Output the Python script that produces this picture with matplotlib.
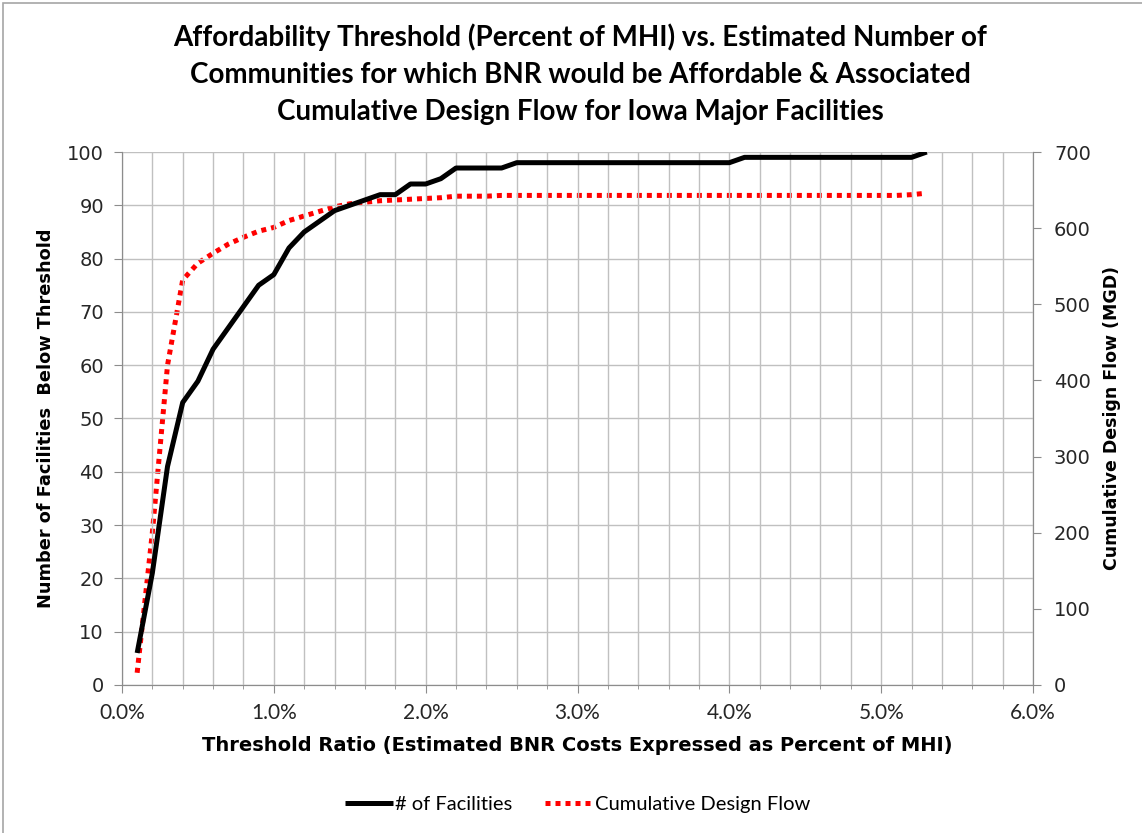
import matplotlib.pyplot as plt
from matplotlib.ticker import MultipleLocator, FuncFormatter
from matplotlib.patches import Rectangle

# threshold ratio, percent of MHI
threshold = [0.1, 0.2, 0.3, 0.4, 0.5, 0.6, 0.7, 0.8, 0.9, 1.0,
             1.1, 1.2, 1.3, 1.4, 1.5, 1.6, 1.7, 1.8, 1.9, 2.0,
             2.1, 2.2, 2.3, 2.4, 2.5, 2.6, 2.7, 2.8, 2.9, 3.0,
             3.1, 3.2, 3.3, 3.4, 3.5, 3.6, 3.7, 3.8, 3.9, 4.0,
             4.1, 4.2, 4.3, 4.4, 4.5, 4.6, 4.7, 4.8, 4.9, 5.0,
             5.1, 5.2, 5.3]
# number of facilities below threshold
facilities = [6, 21, 41, 53, 57, 63, 67, 71, 75, 77,
              82, 85, 87, 89, 90, 91, 92, 92, 94, 94,
              95, 97, 97, 97, 97, 98, 98, 98, 98, 98,
              98, 98, 98, 98, 98, 98, 98, 98, 98, 98,
              99, 99, 99, 99, 99, 99, 99, 99, 99, 99,
              99, 99, 100]
# cumulative design flow (MGD)
design_flow = [16, 200, 420, 532, 554, 567, 579, 588, 596, 601,
               610, 616, 622, 628, 632, 634, 636, 637, 638, 639,
               640, 642, 642, 642, 643, 643, 643, 643, 643, 643,
               643, 643, 643, 643, 643, 643, 643, 643, 643, 643,
               643, 643, 643, 643, 643, 643, 643, 643, 643, 643,
               643, 644, 646]

TXT = "#262626"
WIDE = ["DejaVu Sans"]
plt.rcParams["font.family"] = ["Lato", "DejaVu Sans"]

fig = plt.figure(figsize=(11.42, 8.33), dpi=100)
# outer chart border
fig.patches.append(Rectangle((3 / 1142, -0.01), 1.1, 1 - 3 / 833 + 0.01,
                             transform=fig.transFigure, fill=False,
                             edgecolor="#a6a6a6", linewidth=1.2))
ax = fig.add_axes([0.1068, 0.1777, 0.7978, 0.6398])
ax2 = ax.twinx()

l1, = ax.plot(threshold, facilities, color="black", linewidth=3.6,
              solid_capstyle="butt", solid_joinstyle="round", label="# of Facilities")
l2, = ax2.plot(threshold, design_flow, color="#ff0000", linewidth=3.6,
               linestyle=(0, (1, 1)), dash_capstyle="butt", label="Cumulative Design Flow")
ax.set_zorder(ax2.get_zorder() + 1)
ax.patch.set_visible(False)

ax.set_xlim(0, 6)
ax.set_ylim(0, 100)
ax2.set_ylim(0, 700)
ax.xaxis.set_major_locator(MultipleLocator(1))
ax.xaxis.set_minor_locator(MultipleLocator(0.2))
ax.yaxis.set_major_locator(MultipleLocator(10))
ax2.yaxis.set_major_locator(MultipleLocator(100))
ax.xaxis.set_major_formatter(FuncFormatter(lambda v, p: f"{v:.1f}%"))

ax2.grid(False)
ax.grid(which="both", axis="x", color="#c0c0c0", linewidth=1.0)
ax.grid(which="major", axis="y", color="#c0c0c0", linewidth=1.0)
ax.set_axisbelow(True)

for a in (ax, ax2):
    for s in a.spines.values():
        s.set_color("#8c8c8c")
    a.spines["top"].set_visible(False)
ax.tick_params(axis="both", which="major", length=6, color="#8c8c8c",
               labelsize=15, labelcolor=TXT, pad=7)
ax.tick_params(axis="x", which="minor", length=3, color="#8c8c8c")
ax2.tick_params(axis="y", length=6, color="#8c8c8c", labelsize=14, labelcolor=TXT, pad=9)
for lab in ax.get_yticklabels() + ax2.get_yticklabels():
    lab.set_family(WIDE)
    lab.set_fontsize(14)

ax.set_xlabel("Threshold Ratio (Estimated BNR Costs Expressed as Percent of MHI)",
              fontsize=14, family=WIDE, fontweight="bold", color="black", labelpad=9)
ax.set_ylabel("Number of Facilities  Below Threshold", fontsize=12.8, family=WIDE,
              fontweight="bold", color="black", labelpad=9)
ax2.set_ylabel("Cumulative Design Flow (MGD)", fontsize=12.5, family=WIDE,
               fontweight="bold", color="black", labelpad=9)

fig.suptitle("Affordability Threshold (Percent of MHI) vs. Estimated Number of\n"
             "Communities for which BNR would be Affordable & Associated\n"
             "Cumulative Design Flow for Iowa Major Facilities",
             x=0.508, y=0.972, fontsize=20, fontweight="bold", linespacing=1.52)

fig.legend(handles=[l1, l2], loc="center", bbox_to_anchor=(0.506, 0.034), ncol=2,
           frameon=False, fontsize=14.5, handlelength=2.4, handletextpad=0.1,
           columnspacing=1.6)

fig.savefig("out.png", dpi=100)
